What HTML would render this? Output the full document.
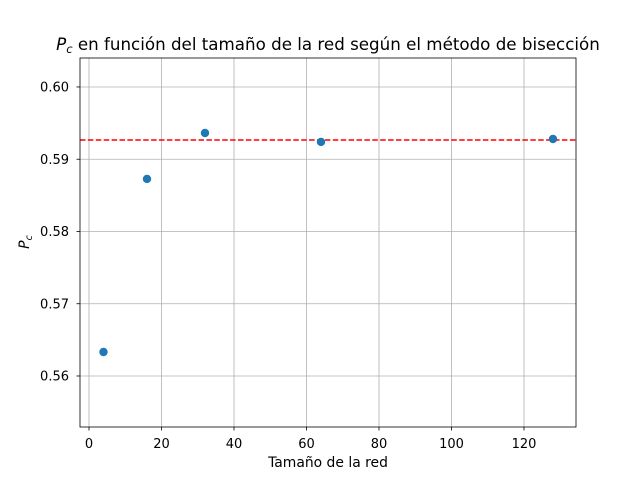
<!DOCTYPE html>
<html><head><meta charset="utf-8"><style>
body{margin:0;background:#fff;font-family:"DejaVu Sans","Liberation Sans",sans-serif;}
</style></head><body>
<svg id="chart" width="640" height="480" xmlns="http://www.w3.org/2000/svg">
<rect width="640" height="480" fill="#fff"/>
<g id="grid"></g>
<g id="ticks"></g>
<line id="hline" stroke="#ff0000" stroke-width="1.5" stroke-dasharray="5.5,2.4"/>
<g id="points"></g>
<rect x="80" y="58" width="496" height="369" fill="none" stroke="#000" stroke-width="0.8"/>
<text x="328" y="50" font-size="16.7" text-anchor="middle"><tspan font-style="italic">P</tspan><tspan font-style="italic" font-size="11.5" dy="3">c</tspan><tspan dy="-3"> en función del tamaño de la red según el método de bisección</tspan></text>
<text x="328" y="467" font-size="13.9" text-anchor="middle">Tamaño de la red</text>
<text transform="translate(29,242) rotate(-90)" font-size="13.9" text-anchor="middle"><tspan font-style="italic">P</tspan><tspan font-style="italic" font-size="9.5" dy="3">c</tspan></text>
</svg>
<script>
const xs = [4, 16, 32, 64, 128];
const ys = [0.56332, 0.58727, 0.59363, 0.59239, 0.5928];
const refY = 0.59266;
const xTicks = [0, 20, 40, 60, 80, 100, 120];
const yTicks = [0.56, 0.57, 0.58, 0.59, 0.60];
const yTickLabels = ["0.56", "0.57", "0.58", "0.59", "0.60"];
const L=80,R=576,T=58,B=427, xmin=-2.48,xmax=134.35, ymin=0.55294,ymax=0.60401;
const sx=v=>L+(v-xmin)/(xmax-xmin)*(R-L);
const sy=v=>B-(v-ymin)/(ymax-ymin)*(B-T);
const NS="http://www.w3.org/2000/svg";
function mk(tag,attrs,parent){const e=document.createElementNS(NS,tag);for(const k in attrs)e.setAttribute(k,attrs[k]);parent.appendChild(e);return e;}
const grid=document.getElementById('grid'),ticks=document.getElementById('ticks'),pts=document.getElementById('points');
xTicks.forEach(v=>{const x=sx(v);
 const g=mk('line',{x1:x,x2:x,y1:T,y2:B,stroke:'#b0b0b0','stroke-width':0.8},grid);
 
 
 const t=mk('line',{x1:x,x2:x,y1:B,y2:B+3.5,stroke:'#000','stroke-width':0.8},ticks);
 
 
 const l=mk('text',{x:x,y:448,'font-size':13,'text-anchor':'middle'},ticks);l.textContent=v;
 
 
});
yTicks.forEach((v,i)=>{const y=sy(v);
 const g=mk('line',{x1:L,x2:R,y1:y,y2:y,stroke:'#b0b0b0','stroke-width':0.8},grid);
 
 
 const t=mk('line',{x1:L-3.5,x2:L,y1:y,y2:y,stroke:'#000','stroke-width':0.8},ticks);
 
 
 const l=mk('text',{x:69,y:y+4.7,'font-size':13,'text-anchor':'end'},ticks);l.textContent=yTickLabels[i];
 
 
});
const h=document.getElementById('hline');h.setAttribute('x1',L);h.setAttribute('x2',R);h.setAttribute('y1',sy(refY));h.setAttribute('y2',sy(refY));
xs.forEach((v,i)=>{const c=mk('circle',{cx:sx(v),cy:sy(ys[i]),r:4.2,fill:'#1f77b4'},pts);
 
 
});
</script>
</body></html>
